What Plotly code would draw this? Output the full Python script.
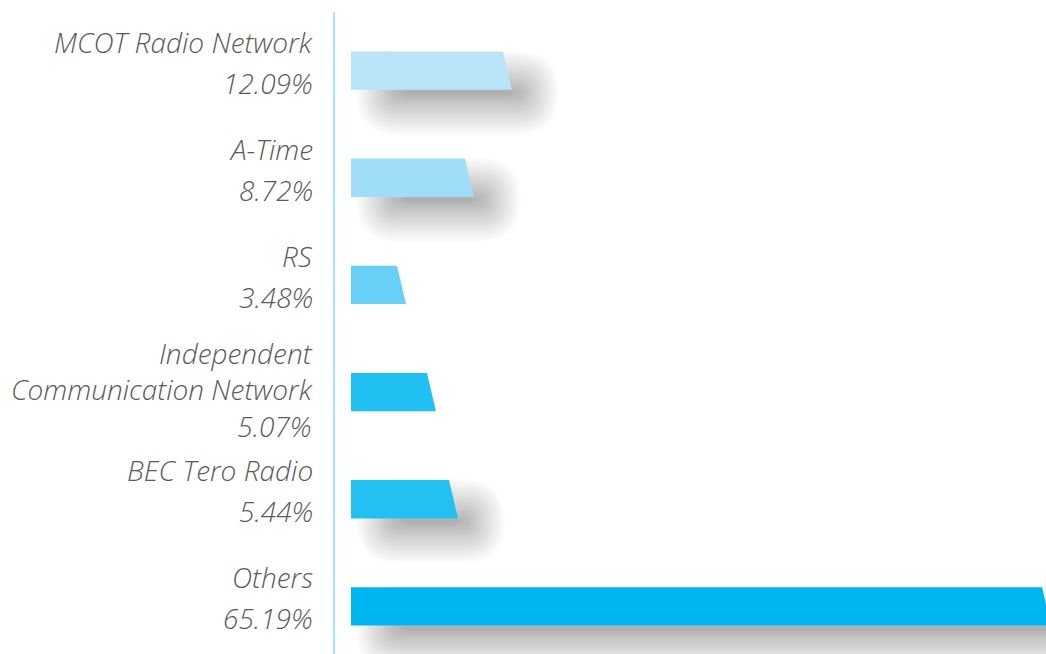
import plotly.graph_objects as go

# ---- data ----
names = ["MCOT Radio Network", "A-Time", "RS",
         "Independent<br>Communication Network", "BEC Tero Radio", "Others"]
shares = [12.09, 8.72, 3.48, 5.07, 5.44, 65.19]          # printed percentages
bar_lengths = [152, 114, 46, 76, 98, 691]                 # drawn bar length (chart units)
colors = ["#B8E5F9", "#A0DDF8", "#68D0F7", "#20C1F2", "#22C1F1", "#00B6F0"]
has_shadow = [True, True, False, False, True, True]

# ---- style ----
W, H = 1046, 654
M_L, M_T = 334, 12
BAR_W = 0.358          # bar thickness in category units
SLANT = 9              # x-units the bottom edge extends past the top edge
X_RANGE = [-17, W - M_L - 17]
Y_RANGE = [5.444, -0.547]
px_per_y = (H - M_T) / (Y_RANGE[0] - Y_RANGE[1])
TEXT_COLOR = "#5A5A5C"
FONT = dict(family="'Open Sans', Roboto, 'Liberation Sans', Arial, sans-serif", size=28,
            color=TEXT_COLOR, style="italic", weight=300)


def rounded_rect(x0, x1, y0, y1, r):
    """SVG path of a rounded rectangle; x in x-units (=px), y in y-units, r in px."""
    r = max(0.5, min(r, (x1 - x0) / 2, (y1 - y0) * px_per_y / 2))
    ry = r / px_per_y
    return (f"M{x0 + r},{y0} L{x1 - r},{y0} Q{x1},{y0} {x1},{y0 + ry} "
            f"L{x1},{y1 - ry} Q{x1},{y1} {x1 - r},{y1} L{x0 + r},{y1} "
            f"Q{x0},{y1} {x0},{y1 - ry} L{x0},{y0 + ry} Q{x0},{y0} {x0 + r},{y0} Z")


fig = go.Figure()
shapes = []
annotations = []

for i, (name, share, L, c, sh) in enumerate(zip(names, shares, bar_lengths, colors, has_shadow)):
    top, bot = i - BAR_W / 2, i + BAR_W / 2
    fig.add_trace(go.Scatter(
        x=[0, L, L + SLANT, 0, 0], y=[top, top, bot, bot, top],
        mode="lines", fill="toself", fillcolor=c,
        line=dict(width=0, color=c), hoverinfo="skip", showlegend=False))

    if sh:
        n_layers, blur = 30, 25.0
        alpha = 1 - (1 - 0.38) ** (1 / n_layers)
        dx0, dx1, dy0, dy1 = 30, 22, 24, 20
        for k in range(n_layers):
            e = blur * (2 * k / (n_layers - 1) - 1)
            shapes.append(dict(
                type="path", xref="x", yref="y", layer="below",
                path=rounded_rect(dx0 - e, L + SLANT + dx1 + e,
                                  top + (dy0 - e) / px_per_y,
                                  bot + (dy1 + e) / px_per_y,
                                  e + blur + 6),
                line=dict(width=0), fillcolor=f"rgba(62,62,68,{alpha:.4f})"))

    name_lines = name.split("<br>")
    pct = f"{share:.2f}%"
    if len(name_lines) == 1:
        blocks = [(name, -29), (pct, 12)]
    else:
        blocks = [("<br>".join(name_lines + [pct]), -2.5)]
    for txt, off in blocks:
        annotations.append(dict(
            text=txt, xref="paper", x=0, xanchor="right", xshift=-19, align="right",
            yref="y", y=i, yanchor="middle", yshift=-off,
            showarrow=False, font=FONT))

shapes.append(dict(type="line", xref="paper", yref="paper", x0=0, x1=0, y0=0, y1=1,
                   line=dict(color="#4FC7F3", width=1), layer="above"))

fig.update_layout(
    width=W, height=H,
    margin=dict(l=M_L, r=0, t=M_T, b=0),
    paper_bgcolor="white", plot_bgcolor="white",
    shapes=shapes, annotations=annotations,
    xaxis=dict(range=X_RANGE, visible=False, fixedrange=True),
    yaxis=dict(range=Y_RANGE, showline=False, showgrid=False, zeroline=False,
               showticklabels=False, ticks="", fixedrange=True),
)

fig.write_html("out.html", config={"displayModeBar": False},
               post_script="document.body.style.margin='0';"
                           "document.body.style.overflow='hidden';")
